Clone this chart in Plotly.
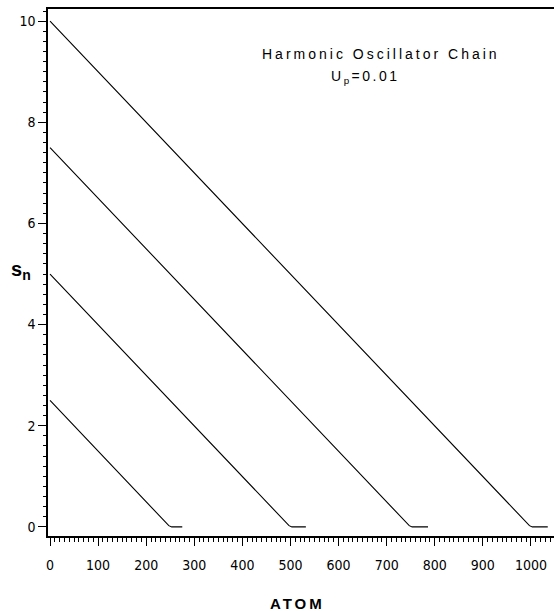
import plotly.graph_objects as go

# Initial displacement s0 of each chain and the atom where the front reaches zero
start_values = [2.5, 5.0, 7.5, 10.0]
front_atoms = [250, 500, 750, 1000]
tail_ends = [275, 532, 786, 1035]

# Rounded knee just before the front (offset in atoms, displacement)
knee_offsets = [-8, -3, 3]
knee_values = [0.08, 0.025, 0.0]

x_ticks = [0, 100, 200, 300, 400, 500, 600, 700, 800, 900, 1000]
y_ticks = [0, 2, 4, 6, 8, 10]


def narrow(v):
    return '<span style="font-stretch:condensed">%d</span>' % v


tick_font = dict(family="DejaVu Sans, sans-serif", size=14, color="black")
label_font = dict(family="Liberation Sans, Arial, Helvetica, sans-serif", color="black")

fig = go.Figure()
for s0, n0, n1 in zip(start_values, front_atoms, tail_ends):
    xs = [0] + [n0 + d for d in knee_offsets] + [n1]
    ys = [s0] + knee_values + [0.0]
    fig.add_trace(go.Scatter(x=xs, y=ys, mode="lines",
                             line=dict(color="black", width=1.1),
                             showlegend=False, hoverinfo="skip"))

fig.update_layout(
    width=554, height=611,
    margin=dict(l=48, r=0, t=9, b=75),
    paper_bgcolor="white", plot_bgcolor="white",
    xaxis=dict(range=[-4.2, 1048], tickvals=x_ticks, ticktext=[narrow(v) for v in x_ticks],
               showgrid=False, zeroline=False, showline=True, linecolor="black", linewidth=1.5,
               mirror=True, ticks="outside", ticklen=8, tickwidth=1, tickcolor="black",
               minor=dict(dtick=10, tick0=0, ticks="outside", ticklen=4, tickcolor="black", tickwidth=1),
               tickfont=tick_font, ticklabelstandoff=7),
    yaxis=dict(range=[-0.18, 10.24], tickvals=y_ticks, ticktext=[narrow(v) for v in y_ticks],
               showgrid=False, zeroline=False, showline=True, linecolor="black", linewidth=1.5,
               ticks="outside", ticklen=8, tickwidth=1, tickcolor="black",
               minor=dict(dtick=0.2, tick0=0, ticks="outside", ticklen=3, tickcolor="black", tickwidth=1),
               tickfont=tick_font, ticklabelstandoff=0),
    annotations=[
        dict(text='<span style="letter-spacing:3px">Harmonic Oscillator Chain</span>',
             xref="paper", yref="paper", x=(381 - 48) / 506, y=(536 - 54) / 527,
             xanchor="center", yanchor="middle", showarrow=False,
             font=dict(size=14, **label_font)),
        dict(text='<span style="letter-spacing:2.5px">U<sub>p</sub>=0.01</span>',
             xref="paper", yref="paper", x=(365 - 48) / 506, y=(536 - 77) / 527,
             xanchor="center", yanchor="middle", showarrow=False,
             font=dict(size=14, **label_font)),
        dict(text="<b>s<sub>n</sub></b>",
             xref="paper", yref="paper", x=(21 - 48) / 506, y=(536 - 270) / 527,
             xanchor="center", yanchor="middle", showarrow=False,
             font=dict(size=20, **label_font)),
        dict(text='<b><span style="letter-spacing:3px">ATOM</span></b>',
             xref="paper", yref="paper", x=(297 - 48) / 506, y=(536 - 603) / 527,
             xanchor="center", yanchor="middle", showarrow=False,
             font=dict(size=15, **label_font)),
    ],
)

fig.write_html("out.html")
